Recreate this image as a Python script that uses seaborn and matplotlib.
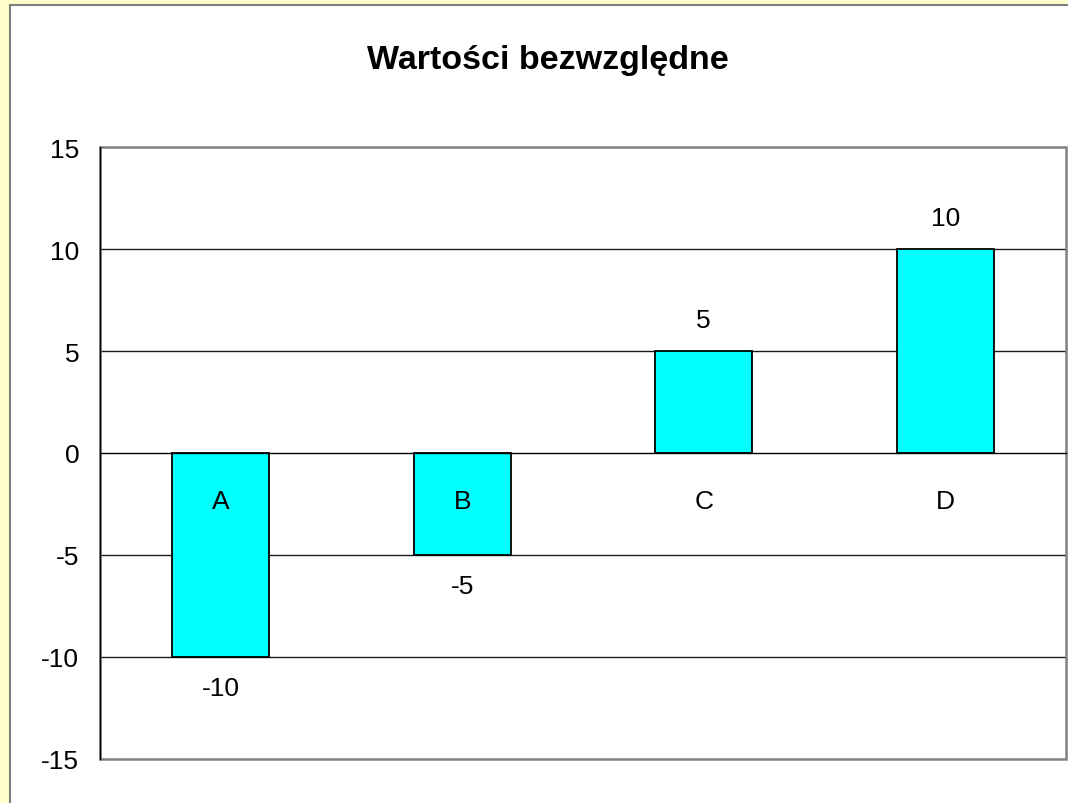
import matplotlib
matplotlib.use('Agg')
import matplotlib.pyplot as plt
import seaborn as sns
import pandas as pd
from matplotlib.patches import Rectangle

# Datos del grafico
kategorie = ['A', 'B', 'C', 'D']
wartosci = [-10, -5, 5, 10]
y_ticks = [-15, -10, -5, 0, 5, 10, 15]
tytul = 'Wartości bezwzględne'

sns.set_style('white')
plt.rcParams['font.family'] = ['Liberation Sans', 'DejaVu Sans']
plt.rcParams['text.color'] = 'black'
plt.rcParams['xtick.color'] = 'black'
plt.rcParams['ytick.color'] = 'black'

df = pd.DataFrame({'kategoria': kategorie, 'wartosc': wartosci})

W, H = 1068, 804
fig = plt.figure(figsize=(W / 100, H / 100), dpi=100)
fig.patch.set_facecolor('#FFFFCC')

# Area del grafico (blanca con borde gris)
fig.patches.append(Rectangle((10 / W, -0.1), 1.2, 1.1 - 6 / H,
                             transform=fig.transFigure, facecolor='white',
                             edgecolor='#808080', linewidth=1.5, zorder=-5))

ax = fig.add_axes([100 / W, (H - 760) / H, 966 / W, 612 / H])
ax.set_facecolor('white')

sns.barplot(data=df, x='kategoria', y='wartosc', color='#00FFFF',
            edgecolor='black', linewidth=1.3, width=0.4, saturation=1, ax=ax, zorder=2)

ax.set_ylim(-15, 15)
ax.set_xlim(-0.5, len(kategorie) - 0.5)
ax.set_yticks(y_ticks)
ax.set_yticklabels([str(t) for t in y_ticks], fontsize=19)

# Lineas de cuadricula
for t in y_ticks[1:-1]:
    if t != 0:
        ax.axhline(t, color='#1a1a1a', linewidth=1, zorder=1)

# Eje x en cero
ax.spines['bottom'].set_position(('data', 0))
ax.spines['bottom'].set_color('black')
ax.spines['bottom'].set_linewidth(1)
ax.spines['bottom'].set_zorder(4)
ax.spines['left'].set_color('black')
ax.spines['left'].set_linewidth(1)
ax.spines['left'].set_zorder(4)
ax.spines['top'].set_visible(False)
ax.spines['right'].set_visible(False)
ax.xaxis.set_zorder(5)

# Borde del area de trazado
ax.add_patch(Rectangle((0, 0), 1, 1, transform=ax.transAxes, fill=False,
                       edgecolor='#808080', linewidth=1.8, clip_on=False, zorder=3))

ax.set_xticks(range(len(kategorie)))
ax.set_xticklabels(kategorie, fontsize=19)
ax.set_xticks([i + 0.5 for i in range(len(kategorie) - 1)], minor=True)
ax.tick_params(axis='x', which='major', length=0, pad=26)
ax.tick_params(axis='x', which='minor', length=6, width=1, color='#333333', direction='out')
ax.tick_params(axis='y', which='major', length=7, width=1, color='#333333', direction='out', pad=8)

ax.set_xlabel('')
ax.set_ylabel('')

ax.bar_label(ax.containers[0], fmt='%d', fontsize=19, padding=14)

fig.text(548 / W, 1 - 60 / H, tytul, ha='center', va='center',
         fontsize=24.5, fontweight='bold')

plt.savefig('out.png', dpi=100, facecolor=fig.get_facecolor())
